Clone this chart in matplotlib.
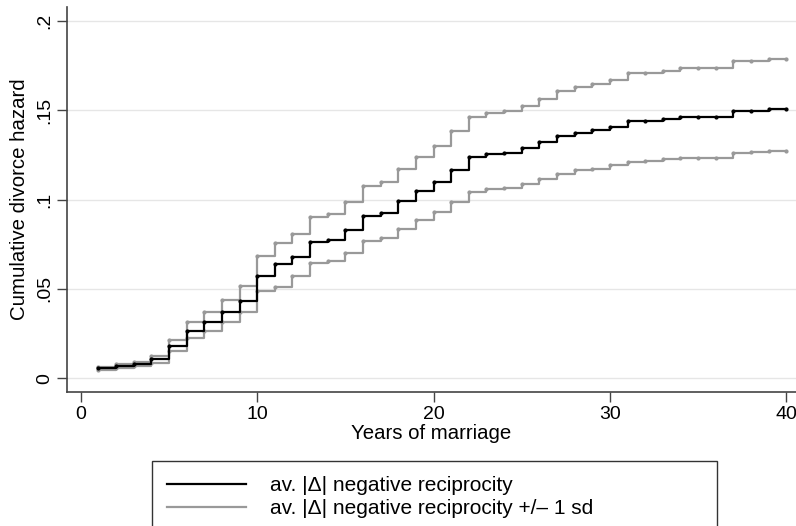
import matplotlib
matplotlib.use("Agg")
import matplotlib.pyplot as plt

plt.rcParams['font.family'] = ['Liberation Sans', 'DejaVu Sans']

# years of marriage (step positions)
years = list(range(1, 41))

# cumulative divorce hazard at average |delta| negative reciprocity
hazard_mean = [0.0056, 0.0067, 0.0078, 0.0108, 0.0180, 0.0265, 0.0313, 0.0369, 0.0432, 0.0573,
               0.0638, 0.0680, 0.0763, 0.0773, 0.0831, 0.0908, 0.0925, 0.0989, 0.1046, 0.1098,
               0.1165, 0.1238, 0.1254, 0.1262, 0.1286, 0.1320, 0.1355, 0.1374, 0.1387, 0.1407,
               0.1437, 0.1441, 0.1450, 0.1460, 0.1460, 0.1460, 0.1495, 0.1497, 0.1508, 0.1508]

# +1 sd
hazard_hi = [0.0064, 0.0078, 0.0089, 0.0125, 0.0214, 0.0313, 0.0371, 0.0438, 0.0516, 0.0684,
             0.0759, 0.0805, 0.0904, 0.0917, 0.0986, 0.1076, 0.1096, 0.1173, 0.1238, 0.1301,
             0.1381, 0.1464, 0.1485, 0.1495, 0.1521, 0.1564, 0.1608, 0.1629, 0.1644, 0.1668,
             0.1708, 0.1709, 0.1720, 0.1734, 0.1734, 0.1734, 0.1773, 0.1775, 0.1787, 0.1787]

# -1 sd
hazard_lo = [0.0048, 0.0059, 0.0070, 0.0087, 0.0153, 0.0224, 0.0265, 0.0313, 0.0371, 0.0486,
             0.0512, 0.0572, 0.0647, 0.0656, 0.0703, 0.0768, 0.0783, 0.0837, 0.0885, 0.0928,
             0.0984, 0.1044, 0.1059, 0.1066, 0.1087, 0.1113, 0.1144, 0.1163, 0.1172, 0.1191,
             0.1211, 0.1214, 0.1225, 0.1234, 0.1234, 0.1234, 0.1262, 0.1264, 0.1271, 0.1271]

xticks = [0, 10, 20, 30, 40]
yticks = [0, 0.05, 0.1, 0.15, 0.2]
ytick_labels = ['0', '.05', '.1', '.15', '.2']

labels = ['av. |\u0394| negative reciprocity', 'av. |\u0394| negative reciprocity +/\u2013 1 sd']

BLACK = '#000000'
GRAY = '#999999'
AXCOL = '#444444'

fig = plt.figure(figsize=(7.96, 5.26), dpi=100)
ax = fig.add_axes([67 / 796, 1 - 392 / 526, 1 - 67 / 796, (392 - 7) / 526])

for y in yticks:
    ax.axhline(y, color='#e6e6e6', lw=1.0, zorder=0)

l_mean, = ax.plot(years, hazard_mean, drawstyle='steps-post', color=BLACK, lw=1.6,
                  marker='o', ms=2, label=labels[0], zorder=3)
l_hi, = ax.plot(years, hazard_hi, drawstyle='steps-post', color=GRAY, lw=1.6,
                marker='o', ms=2, label=labels[1], zorder=2)
ax.plot(years, hazard_lo, drawstyle='steps-post', color=GRAY, lw=1.6,
        marker='o', ms=2, zorder=2)

ax.set_xlim(-0.78, 40.55)
ax.set_ylim(-0.0077, 0.2077)

ax.set_xticks(xticks)
ax.set_yticks(yticks)
ax.set_yticklabels(ytick_labels)
plt.setp(ax.get_yticklabels(), rotation=90, va='center')

ax.tick_params(axis='both', length=7, width=1, color=AXCOL, labelsize=14, pad=3)

for side in ['top', 'right']:
    ax.spines[side].set_visible(False)
for side in ['left', 'bottom']:
    ax.spines[side].set_color(AXCOL)
    ax.spines[side].set_linewidth(1.2)

ax.set_xlabel('Years of marriage', fontsize=14.7, labelpad=1)
ax.set_ylabel('Cumulative divorce hazard', fontsize=14.7, labelpad=5)

leg = fig.legend(handles=[l_mean, l_hi], labels=labels,
                 loc='upper left',
                 bbox_to_anchor=(151.7 / 796, 1 - 460.7 / 526, 565 / 796, 0),
                 bbox_transform=fig.transFigure, mode='expand',
                 fontsize=15, frameon=True, fancybox=False,
                 edgecolor='#000000', borderpad=0.75, handlelength=3.8,
                 handletextpad=1.15, labelspacing=0.17, borderaxespad=0)
leg.get_frame().set_linewidth(1.0)
for h in leg.legend_handles:
    h.set_marker('')

fig.savefig('out.png', dpi=100)
